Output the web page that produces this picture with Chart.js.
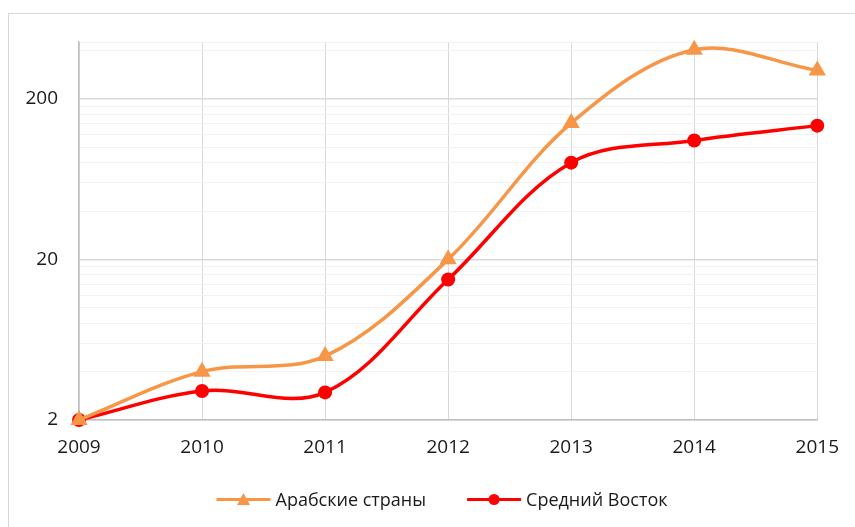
<!DOCTYPE html>
<html>
<head>
<meta charset="utf-8">
<script src="https://cdn.jsdelivr.net/npm/chart.js@4.4.1/dist/chart.umd.min.js"></script>
<style>
  html, body { margin: 0; padding: 0; background: #fff; }
  #wrap { position: relative; width: 855px; height: 527px; }
</style>
</head>
<body>
<div id="wrap"><canvas id="chart"></canvas></div>
<script>
// данные
const years = ["2009", "2010", "2011", "2012", "2013", "2014", "2015"];
const arabCountries = [2, 4, 5, 20, 141, 404, 300];
const middleEast = [2, 3.03, 2.97, 15, 80, 110, 136];
const yTickLabels = [2, 20, 200];
const yMin = 2;
const yMax = 451;

const ORANGE = "#F79646";
const RED = "#FF0000";
const INK = "#1a1a1a";
const FONT = "'Open Sans', 'DejaVu Sans', sans-serif";

// рамка области диаграммы
const frame = {
  id: "frame",
  beforeDraw(chart) {
    const { ctx } = chart;
    ctx.save();
    ctx.fillStyle = "#fff";
    ctx.fillRect(0, 0, chart.width, chart.height);
    ctx.strokeStyle = "#D9D9D9";
    ctx.lineWidth = 1;
    ctx.strokeRect(8.5, 13.5, 900, 600);
    ctx.restore();
  }
};

// легенда: линия с маркером + подпись
const legendRow = {
  id: "legendRow",
  afterDraw(chart) {
    const { ctx } = chart;
    const cy = 499.5, sample = 54, gap = 5, between = 41;
    ctx.save();
    ctx.font = `18px ${FONT}`;
    const items = chart.data.datasets.map(ds => ({ ds, w: ctx.measureText(ds.label).width }));
    const total = items.reduce((s, it) => s + sample + gap + it.w, 0) + between * (items.length - 1);
    let x = 442 - total / 2;
    for (const { ds, w } of items) {
      ctx.strokeStyle = ds.borderColor;
      ctx.fillStyle = ds.borderColor;
      ctx.lineWidth = 3;
      ctx.beginPath(); ctx.moveTo(x, cy); ctx.lineTo(x + sample, cy); ctx.stroke();
      const mx = x + sample / 2;
      ctx.beginPath();
      if (ds.pointStyle === "triangle") {
        ctx.moveTo(mx, cy - 6.5); ctx.lineTo(mx + 6.5, cy + 5.5); ctx.lineTo(mx - 6.5, cy + 5.5);
        ctx.closePath();
      } else {
        ctx.arc(mx, cy, 5.5, 0, Math.PI * 2);
      }
      ctx.fill();
      ctx.fillStyle = INK;
      ctx.textBaseline = "middle";
      ctx.textAlign = "left";
      ctx.fillText(ds.label, x + sample + gap, cy + 1);
      x += sample + gap + w + between;
    }
    ctx.restore();
  }
};

new Chart(document.getElementById("chart"), {
  type: "line",
  data: {
    labels: years,
    datasets: [
      {
        label: "Арабские страны",
        data: arabCountries,
        borderColor: ORANGE,
        backgroundColor: ORANGE,
        borderWidth: 3.5,
        tension: 0.35,
        pointStyle: "triangle",
        pointRadius: 10,
        pointHoverRadius: 10,
        pointBorderWidth: 0,
        clip: false
      },
      {
        label: "Средний Восток",
        data: middleEast,
        borderColor: RED,
        backgroundColor: RED,
        borderWidth: 3.5,
        tension: 0.35,
        pointStyle: "circle",
        pointRadius: 7,
        pointHoverRadius: 7,
        pointBorderWidth: 0,
        clip: false
      }
    ]
  },
  options: {
    responsive: true,
    maintainAspectRatio: false,
    animation: false,
    layout: { padding: { top: 42, left: 0, right: 37, bottom: 67 } },
    plugins: {
      legend: { display: false },
      tooltip: { enabled: false }
    },
    scales: {
      x: {
        afterFit: s => { s.height = 40; },
        grid: { color: "#D9D9D9", drawTicks: false },
        border: { color: "#BFBFBF", width: 1.5 },
        ticks: { color: INK, font: { family: FONT, size: 19 }, padding: 16, maxRotation: 0 }
      },
      y: {
        type: "logarithmic",
        min: yMin,
        max: yMax,
        afterFit: s => { s.width = 79; },
        afterBuildTicks: s => {
          const t = [];
          for (const base of yTickLabels) {
            for (let k = 1; k < 10; k++) {
              if (base * k <= yMax) t.push({ value: base * k });
            }
          }
          t.push({ value: yMax });
          s.ticks = t;
        },
        grid: {
          drawTicks: false,
          color: c => yTickLabels.includes(c.tick && c.tick.value) ? "#D9D9D9" : "#F2F2F2",
          lineWidth: c => yTickLabels.includes(c.tick && c.tick.value) ? 1.5 : 1
        },
        border: { color: "#BFBFBF", width: 1.5 },
        ticks: {
          autoSkip: false,
          color: INK,
          font: { family: FONT, size: 19 },
          padding: 21,
          callback: v => yTickLabels.includes(v) ? String(v) : ""
        }
      }
    }
  },
  plugins: [frame, legendRow]
});
</script>
</body>
</html>
